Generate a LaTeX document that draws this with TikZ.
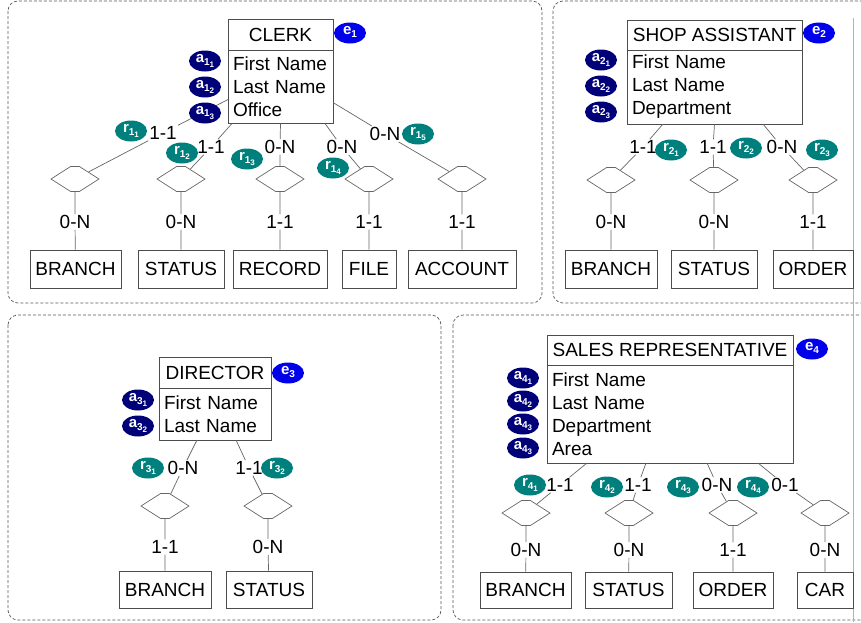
\documentclass[tikz,border=0pt]{standalone}
\usepackage{fontspec}
\setmainfont{Liberation Sans}
\usetikzlibrary{positioning,shapes.geometric,shapes.symbols}

\definecolor{entblue}{RGB}{0,0,235}
\definecolor{attnavy}{RGB}{0,0,120}
\definecolor{relteal}{RGB}{0,128,124}

% letter with a subscript and a second, lower subscript
\newcommand\tagtxt[3]{#1\raisebox{-2.5pt}{\fontsize{10}{10}\selectfont #2\raisebox{-2.5pt}{\fontsize{8}{8}\selectfont #3}}}

\begin{document}
\begin{tikzpicture}[x=1pt, y=-1pt,
    panel/.style={draw=black!65, line width=0.7pt, dash pattern=on 3pt off 2pt, rounded corners=10pt},
    head/.style={draw=black!70, line width=0.8pt, outer sep=0pt, minimum height=31pt, inner sep=0pt, font=\fontsize{19}{22}\selectfont},
    attrs/.style={draw=black!70, line width=0.8pt, outer sep=0pt, align=left, inner xsep=5pt, inner ysep=0pt, font=\fontsize{19}{23}\selectfont},
    ent/.style={draw=black!70, line width=0.8pt, minimum height=38pt, inner sep=0pt, font=\fontsize{19}{19}\selectfont},
    rel/.style={signal, signal to=west and east, signal pointer angle=65, draw=black!60, line width=0.7pt, minimum width=48pt, minimum height=25pt, inner sep=0pt},
    card/.style={inner sep=1pt, font=\fontsize{19}{19}\selectfont},
    link/.style={draw=black!60, line width=0.7pt},
    etag/.style={ellipse, fill=entblue, text=white, minimum width=32pt, minimum height=21pt, inner sep=0pt, font=\fontsize{15}{15}\selectfont\bfseries},
    atag/.style={etag, fill=attnavy},
    rtag/.style={etag, fill=relteal}]

    \useasboundingbox (0,0) rectangle (861,622);
    \clip (0,0) rectangle (861,622);

    % panels
    \draw[panel] (8,1) rectangle (542,303);
    \draw[panel] (553,1) rectangle (880,303);
    \draw[panel] (8,315) rectangle (441,620);
    \draw[panel] (453,315) rectangle (880,620);
    \draw[black!30, line width=0.8pt] (853,18) -- (853,622);

    % ---- clerk ----
    \node[head, minimum width=105pt] (clerk) at (280.5,35) {CLERK};
    \node[attrs, text width=95pt, minimum height=73pt, below=0pt of clerk] (clerkatt) {First Name\\Last Name\\Office};

    \node[card] (t11) at (163,133) {1-1};
    \node[card] (t12) at (211,147) {1-1};
    \node[card] (t13) at (280,147) {0-N};
    \node[card] (t14) at (342,147) {0-N};
    \node[card] (t15) at (385,134) {0-N};

    \node[rel] (d11) at (75,179) {};
    \node[rel] (d12) at (181,179) {};
    \node[rel] (d13) at (280,179) {};
    \node[rel] (d14) at (369,179) {};
    \node[rel] (d15) at (462,179) {};

    \node[card] (b11) at (75,222) {0-N};
    \node[card] (b12) at (181,222) {0-N};
    \node[card] (b13) at (280,222) {1-1};
    \node[card] (b14) at (369,222) {1-1};
    \node[card] (b15) at (462,222) {1-1};

    \node[ent, minimum width=91pt] (branch1) at (75.5,269) {BRANCH};
    \node[ent, minimum width=86pt] (status1) at (181,269) {STATUS};
    \node[ent, minimum width=94pt] (record1) at (280,269) {RECORD};
    \node[ent, minimum width=54pt] (file1) at (369,269) {FILE};
    \node[ent, minimum width=108pt] (account1) at (462,269) {ACCOUNT};

    \draw[link] ([yshift=-12.5pt]clerkatt.west) -- (t11) -- (d11) -- (b11) -- (branch1);
    \draw[link] ([xshift=-48.5pt]clerkatt.south) -- (t12) -- (d12) -- (b12) -- (status1);
    \draw[link] (clerkatt.south) -- (t13) -- (d13) -- (b13) -- (record1);
    \draw[link] ([xshift=44.5pt]clerkatt.south) -- (t14) -- (d14) -- (b14) -- (file1);
    \draw[link] ([yshift=-15.5pt]clerkatt.east) -- (t15) -- (d15) -- (b15) -- (account1);

    \node[etag] (e1) at (350,33) {\tagtxt{e}{1}{}};
    \node[atag] (a11) at (205,61) {\tagtxt{a}{1}{1}};
    \node[atag] (a12) at (205,87) {\tagtxt{a}{1}{2}};
    \node[atag] (a13) at (205,113) {\tagtxt{a}{1}{3}};
    \node[rtag] (r11) at (131,131) {\tagtxt{r}{1}{1}};
    \node[rtag] (r12) at (182,153) {\tagtxt{r}{1}{2}};
    \node[rtag] (r13) at (247,159) {\tagtxt{r}{1}{3}};
    \node[rtag] (r14) at (333,168) {\tagtxt{r}{1}{4}};
    \node[rtag] (r15) at (418,134) {\tagtxt{r}{1}{5}};

    % ---- shop assistant ----
    \node[head, minimum width=175pt, minimum height=30pt] (shop) at (714.5,35) {SHOP ASSISTANT};
    \node[attrs, text width=165pt, minimum height=74pt, below=0pt of shop] (shopatt) {First Name\\Last Name\\Department};

    \node[card] (t21) at (643,147) {1-1};
    \node[card] (t22) at (713,147) {1-1};
    \node[card] (t23) at (782,147) {0-N};

    \node[rel] (d21) at (611,180) {};
    \node[rel] (d22) at (714,180) {};
    \node[rel] (d23) at (813,180) {};

    \node[card] (b21) at (611,222) {0-N};
    \node[card] (b22) at (714,222) {0-N};
    \node[card] (b23) at (813,222) {1-1};

    \node[ent, minimum width=92pt] (branch2) at (611,269) {BRANCH};
    \node[ent, minimum width=86pt] (status2) at (714,269) {STATUS};
    \node[ent, minimum width=80pt] (order2) at (813,269) {ORDER};

    \draw[link] ([xshift=-51.5pt]shopatt.south) -- (t21) -- (d21) -- (b21) -- (branch2);
    \draw[link] (shopatt.south) -- (t22) -- (d22) -- (b22) -- (status2);
    \draw[link] ([xshift=48.5pt]shopatt.south) -- (t23) -- (d23) -- (b23) -- (order2);

    \node[etag] (e2) at (819,33) {\tagtxt{e}{2}{}};
    \node[atag] (a21) at (601,60) {\tagtxt{a}{2}{1}};
    \node[atag] (a22) at (601,86) {\tagtxt{a}{2}{2}};
    \node[atag] (a23) at (601,112) {\tagtxt{a}{2}{3}};
    \node[rtag] (r21) at (671,150) {\tagtxt{r}{2}{1}};
    \node[rtag] (r22) at (746,148) {\tagtxt{r}{2}{2}};
    \node[rtag] (r23) at (822,150) {\tagtxt{r}{2}{3}};

    % ---- director ----
    \node[head, minimum width=112pt] (director) at (215,372.5) {DIRECTOR};
    \node[attrs, text width=102pt, minimum height=52pt, below=0pt of director] (directoratt) {First Name\\Last Name};

    \node[card] (t31) at (183,468) {0-N};
    \node[card] (t32) at (249,468) {1-1};

    \node[rel] (d31) at (165,506) {};
    \node[rel] (d32) at (268,506) {};

    \node[card] (b31) at (165,547) {1-1};
    \node[card] (b32) at (268,547) {0-N};

    \node[ent, minimum width=92pt, minimum height=37pt] (branch3) at (165,589.5) {BRANCH};
    \node[ent, minimum width=86pt, minimum height=37pt] (status3) at (269,589.5) {STATUS};

    \draw[link] ([xshift=-18pt]directoratt.south) -- (t31) -- (d31) -- (b31) -- (branch3);
    \draw[link] ([xshift=21pt]directoratt.south) -- (t32) -- (d32) -- (b32) -- (status3);

    \node[etag] (e3) at (288,373) {\tagtxt{e}{3}{}};
    \node[atag] (a31) at (138,400) {\tagtxt{a}{3}{1}};
    \node[atag] (a32) at (138,426) {\tagtxt{a}{3}{2}};
    \node[rtag] (r31) at (148,468) {\tagtxt{r}{3}{1}};
    \node[rtag] (r32) at (277,468) {\tagtxt{r}{3}{2}};

    % ---- sales representative ----
    \node[head, minimum width=246pt, minimum height=30pt] (sales) at (670,350) {SALES REPRESENTATIVE};
    \node[attrs, text width=236pt, minimum height=98pt, below=0pt of sales] (salesatt) {First Name\\Last Name\\Department\\Area};

    \node[card] (t41) at (560,485) {1-1};
    \node[card] (t42) at (638,485) {1-1};
    \node[card] (t43) at (717,485) {0-N};
    \node[card] (t44) at (785,485) {0-1};

    \node[rel] (d41) at (526,513) {};
    \node[rel] (d42) at (629,513) {};
    \node[rel] (d43) at (733,513) {};
    \node[rel] (d44) at (825,513) {};

    \node[card] (b41) at (526,550) {0-N};
    \node[card] (b42) at (629,550) {0-N};
    \node[card] (b43) at (733,550) {1-1};
    \node[card] (b44) at (825,550) {0-N};

    \node[ent, minimum width=91pt, minimum height=36pt] (branch4) at (525.5,590) {BRANCH};
    \node[ent, minimum width=87pt, minimum height=36pt] (status4) at (628.5,590) {STATUS};
    \node[ent, minimum width=80pt, minimum height=36pt] (order4) at (733,590) {ORDER};
    \node[ent, minimum width=56pt, minimum height=36pt] (car4) at (825,590) {CAR};

    \draw[link] ([xshift=-83pt]salesatt.south) -- (t41) -- (d41) -- (b41) -- (branch4);
    \draw[link] ([xshift=-24pt]salesatt.south) -- (t42) -- (d42) -- (b42) -- (status4);
    \draw[link] ([xshift=37pt]salesatt.south) -- (t43) -- (d43) -- (b43) -- (order4);
    \draw[link] ([xshift=88pt]salesatt.south) -- (t44) -- (d44) -- (b44) -- (car4);

    \node[etag] (e4) at (812,349) {\tagtxt{e}{4}{}};
    \node[atag] (a41) at (523,378) {\tagtxt{a}{4}{1}};
    \node[atag] (a42) at (523,401) {\tagtxt{a}{4}{2}};
    \node[atag] (a43) at (523,424) {\tagtxt{a}{4}{3}};
    \node[atag] (a44) at (523,448) {\tagtxt{a}{4}{3}};
    \node[rtag] (r41) at (530,485) {\tagtxt{r}{4}{1}};
    \node[rtag] (r42) at (607,487) {\tagtxt{r}{4}{2}};
    \node[rtag] (r43) at (683,487) {\tagtxt{r}{4}{3}};
    \node[rtag] (r44) at (753,487) {\tagtxt{r}{4}{4}};
\end{tikzpicture}
\end{document}
